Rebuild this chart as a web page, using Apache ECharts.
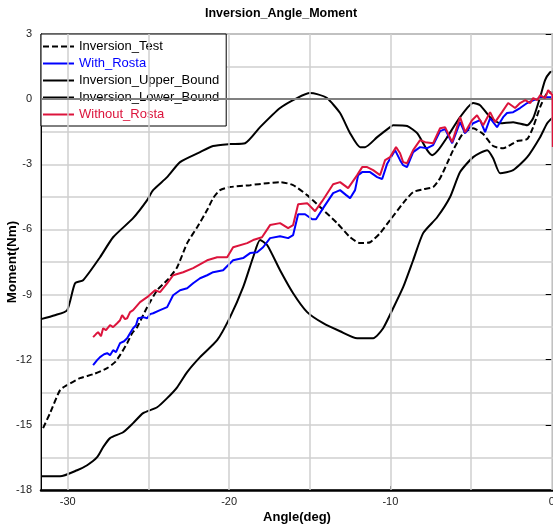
<!DOCTYPE html>
<html>
<head>
<meta charset="utf-8">
<script src="https://cdn.jsdelivr.net/npm/echarts@6/dist/echarts.min.js"></script>
<style>
  html, body { margin: 0; padding: 0; background: #fff; }
  #chart { width: 553px; height: 529px; }
</style>
</head>
<body>
<div id="chart"></div>
<script>
// Angle (deg) / moment (Nm) pairs for each curve
const inversionTest = [[-31.53,-15.15],[-31.10,-14.46],[-30.48,-13.40],[-30.04,-13.17],[-29.24,-12.85],[-28.43,-12.67],[-27.56,-12.39],[-27.07,-12.11],[-26.76,-11.79],[-26.32,-11.24],[-26.01,-10.78],[-25.70,-10.50],[-25.08,-9.58],[-24.46,-8.80],[-23.84,-8.34],[-23.22,-7.74],[-22.60,-6.63],[-21.98,-5.90],[-21.36,-5.11],[-20.99,-4.56],[-20.56,-4.19],[-19.94,-4.05],[-18.70,-3.96],[-17.64,-3.87],[-16.84,-3.82],[-16.03,-3.96],[-15.16,-4.42],[-14.36,-4.97],[-13.30,-5.71],[-12.50,-6.36],[-11.88,-6.63],[-11.26,-6.59],[-10.64,-6.17],[-10.02,-5.57],[-9.21,-4.79],[-8.59,-4.28],[-7.97,-4.15],[-7.35,-4.05],[-6.92,-3.64],[-6.48,-2.95],[-6.11,-2.35],[-5.49,-1.57],[-4.87,-1.34],[-4.25,-1.61],[-3.63,-2.16],[-3.01,-2.26],[-2.14,-1.93],[-1.52,-1.84],[-1.15,-1.29],[-0.72,-0.37],[-0.28,0.28],[0.08,0.32]];

const withRosta = [[-28.43,-12.25],[-28.18,-12.02],[-28.00,-11.88],[-27.75,-11.75],[-27.56,-11.70],[-27.38,-11.79],[-27.19,-11.56],[-27.01,-11.65],[-26.76,-11.24],[-26.51,-11.15],[-26.32,-11.01],[-26.14,-10.78],[-25.95,-10.55],[-25.77,-10.41],[-25.64,-10.09],[-25.33,-10.04],[-25.08,-10.09],[-24.90,-9.90],[-24.71,-9.86],[-24.28,-9.72],[-23.84,-9.58],[-23.47,-9.03],[-23.04,-8.80],[-22.60,-8.71],[-22.23,-8.48],[-21.80,-8.25],[-21.36,-8.11],[-20.99,-7.97],[-20.37,-7.88],[-19.75,-7.42],[-19.13,-7.32],[-18.70,-7.09],[-18.26,-7.05],[-17.89,-6.82],[-17.46,-6.40],[-16.84,-6.31],[-16.34,-6.40],[-16.03,-6.26],[-15.72,-5.30],[-15.29,-5.30],[-14.85,-5.53],[-14.61,-5.53],[-14.17,-5.02],[-13.55,-4.33],[-13.12,-4.19],[-12.74,-4.42],[-12.50,-4.56],[-12.19,-4.19],[-12.00,-3.50],[-11.75,-3.36],[-11.26,-3.36],[-10.82,-3.59],[-10.51,-3.68],[-10.21,-2.99],[-9.71,-2.35],[-9.40,-2.81],[-9.21,-3.04],[-8.97,-3.13],[-8.59,-2.44],[-8.16,-2.21],[-7.72,-2.26],[-7.35,-2.12],[-6.92,-1.47],[-6.61,-1.38],[-6.17,-2.03],[-5.68,-1.06],[-5.37,-1.57],[-4.87,-1.11],[-4.44,-0.97],[-4.13,-1.52],[-3.82,-0.88],[-3.39,-1.29],[-3.01,-0.83],[-2.77,-0.64],[-2.39,-0.60],[-1.96,-0.41],[-1.52,-0.18],[-1.15,-0.05],[-0.72,0.05],[-0.28,0.09],[0.08,0.09]];

const upperBound = [[-31.66,-10.13],[-30.80,-9.95],[-30.04,-9.72],[-29.55,-8.48],[-29.05,-8.34],[-28.00,-7.28],[-27.19,-6.36],[-25.95,-5.48],[-25.08,-4.65],[-24.71,-4.19],[-23.84,-3.59],[-23.04,-2.90],[-21.80,-2.44],[-20.99,-2.16],[-19.94,-2.07],[-19.01,-2.03],[-18.08,-1.29],[-16.84,-0.41],[-15.79,0.05],[-14.98,0.28],[-14.55,0.23],[-13.93,0.05],[-13.12,-0.64],[-12.50,-1.57],[-11.88,-2.21],[-11.57,-2.21],[-10.82,-1.75],[-10.02,-1.29],[-9.83,-1.20],[-8.96,-1.24],[-8.34,-1.57],[-7.72,-2.35],[-7.41,-2.58],[-7.04,-2.35],[-6.48,-1.75],[-5.68,-0.83],[-4.87,-0.18],[-4.44,-0.28],[-3.82,-0.83],[-3.20,-1.11],[-2.39,-1.06],[-1.52,-1.20],[-1.15,-0.88],[-0.72,0.09],[-0.41,0.88],[-0.10,1.24],[0.08,1.29]];

const lowerBound = [[-31.66,-17.37],[-30.48,-17.37],[-29.42,-17.09],[-28.80,-16.86],[-28.18,-16.49],[-27.81,-16.03],[-27.38,-15.61],[-26.57,-15.34],[-25.95,-14.92],[-25.33,-14.46],[-24.46,-14.19],[-23.84,-13.77],[-23.22,-13.27],[-22.60,-12.57],[-21.80,-11.88],[-20.74,-11.10],[-19.94,-10.04],[-19.13,-8.66],[-18.51,-7.28],[-18.08,-6.49],[-17.64,-6.72],[-16.84,-7.88],[-16.03,-8.94],[-15.16,-9.81],[-14.17,-10.32],[-13.12,-10.69],[-12.06,-11.01],[-11.07,-11.01],[-10.45,-10.55],[-9.83,-9.63],[-9.21,-8.66],[-8.59,-7.42],[-7.97,-6.17],[-7.10,-5.44],[-6.30,-4.51],[-5.68,-3.36],[-4.87,-2.67],[-4.00,-2.35],[-3.63,-2.72],[-3.20,-3.41],[-2.39,-3.27],[-1.52,-2.67],[-0.72,-1.75],[-0.28,-1.11],[0.08,-0.83]];

const withoutRosta = [[-28.43,-10.96],[-28.25,-10.82],[-28.12,-10.73],[-27.94,-10.92],[-27.81,-10.55],[-27.63,-10.64],[-27.38,-10.41],[-27.19,-10.50],[-26.94,-10.32],[-26.76,-10.18],[-26.63,-9.95],[-26.45,-10.13],[-26.32,-10.09],[-26.14,-9.81],[-25.95,-9.72],[-25.52,-9.35],[-25.08,-9.12],[-24.59,-8.80],[-24.28,-8.89],[-23.84,-8.48],[-23.47,-8.11],[-22.85,-7.97],[-22.23,-7.78],[-21.36,-7.42],[-20.74,-7.28],[-20.12,-7.28],[-19.75,-6.82],[-18.88,-6.63],[-18.51,-6.49],[-17.96,-6.36],[-17.46,-5.80],[-16.84,-5.71],[-16.34,-5.94],[-16.03,-5.80],[-15.72,-4.84],[-15.16,-4.79],[-14.67,-5.16],[-14.23,-4.70],[-13.55,-3.92],[-13.12,-3.82],[-12.62,-4.10],[-12.06,-3.50],[-11.75,-3.13],[-11.44,-3.13],[-11.07,-3.27],[-10.64,-3.50],[-10.33,-2.81],[-10.02,-2.67],[-9.65,-2.21],[-9.40,-2.49],[-9.21,-2.90],[-8.97,-2.95],[-8.59,-2.35],[-8.16,-1.89],[-7.84,-1.98],[-7.35,-2.03],[-6.92,-1.34],[-6.61,-1.29],[-6.17,-1.98],[-5.68,-0.83],[-5.37,-1.52],[-4.94,-0.97],[-4.63,-0.74],[-4.25,-1.20],[-3.82,-0.60],[-3.51,-1.06],[-3.08,-0.60],[-2.70,-0.18],[-2.27,-0.41],[-1.96,-0.18],[-1.64,-0.05],[-1.33,-0.18],[-1.15,0.05],[-0.90,-0.05],[-0.72,0.18],[-0.41,0.05],[-0.22,0.41],[0.05,0.18],[0.07,-2.2]];

// Axis ranges and tick values
const xMin = -31.66, xMax = 0.08;
const yMin = -18, yMax = 3;
const xLabelValues = [-30, -20, -10, 0];
const xGridValues = [-30, -25, -20, -15, -10, -5, 0];

const FONT = '"Liberation Sans", Arial, sans-serif';
const GRID_COLOR = '#cfcfcf';

const chart = echarts.init(document.getElementById('chart'), null, { renderer: 'canvas' });

function lineSeries(name, data, color, dashed, z, smooth) {
  return {
    name: name,
    type: 'line',
    data: data,
    symbol: 'none',
    smooth: smooth,
    z: z,
    clip: true,
    lineStyle: { color: color, width: 2, type: dashed ? [6, 3] : 'solid' },
    itemStyle: { color: color },
    emphasis: { disabled: true },
    animation: false
  };
}

chart.setOption({
  animation: false,
  backgroundColor: '#fff',
  textStyle: { fontFamily: FONT },
  graphic: [{
    type: 'text',
    x: 281, y: 14,
    style: {
      text: 'Inversion_Angle_Moment',
      font: 'bold 12.5px ' + FONT,
      fill: '#000',
      align: 'center',
      verticalAlign: 'middle'
    }
  }],
  grid: {
    left: 41, right: 0, top: 34, bottom: 39,
    outerBoundsMode: 'none',
    containLabel: false,
    show: true, borderColor: '#333', borderWidth: 1, backgroundColor: 'transparent'
  },
  legend: {
    orient: 'vertical',
    left: 41, top: 34,
    padding: [6, 7, 5, 1],
    backgroundColor: '#fff',
    borderColor: '#000',
    borderWidth: 1,
    itemWidth: 31,
    itemHeight: 14,
    itemGap: 4,
    selectedMode: false,
    itemStyle: { opacity: 0, borderWidth: 0 },
    textStyle: { fontSize: 13, fontFamily: FONT, color: '#000' },
    data: [
      { name: 'Inversion_Test', textStyle: { color: '#000' } },
      { name: 'With_Rosta', textStyle: { color: '#0000ff' } },
      { name: 'Inversion_Upper_Bound', textStyle: { color: '#000' } },
      { name: 'Inversion_Lower_Bound', textStyle: { color: '#000' } },
      { name: 'Without_Rosta', textStyle: { color: '#dc143c' } }
    ]
  },
  xAxis: {
    type: 'value',
    min: xMin, max: xMax,
    name: 'Angle(deg)',
    nameLocation: 'middle',
    nameGap: 21,
    nameMoveOverlap: false,
    nameTextStyle: { fontWeight: 'bold', fontSize: 13, color: '#000', fontFamily: FONT },
    axisLine: { show: true, onZero: false, lineStyle: { color: '#000', width: 2.5 } },
    axisTick: { show: true, inside: true, length: 4, customValues: [-10], lineStyle: { color: '#000', width: 1 } },
    axisLabel: { customValues: xLabelValues, fontSize: 11, color: '#222', margin: 6, fontFamily: FONT, showMaxLabel: true, showMinLabel: true, hideOverlap: false },
    splitLine: { show: false }
  },
  yAxis: [{
    type: 'value',
    min: yMin, max: yMax, interval: 1.5,
    axisLine: { show: true, onZero: false, lineStyle: { color: '#000', width: 1 } },
    axisTick: { show: false },
    axisLabel: { show: false },
    splitLine: { show: true, lineStyle: { color: GRID_COLOR, width: 1.5 } }
  }, {
    type: 'value',
    position: 'left',
    offset: 0,
    min: yMin, max: yMax, interval: 3,
    name: 'Moment(Nm)',
    nameLocation: 'middle',
    nameGap: 22,
    nameRotate: 90,
    nameMoveOverlap: false,
    nameTextStyle: { fontWeight: 'bold', fontSize: 13.5, color: '#000', fontFamily: FONT },
    axisLine: { show: false },
    axisTick: { show: true, length: 6, lineStyle: { color: '#000', width: 1 } },
    axisLabel: { fontSize: 11, color: '#222', margin: 9, fontFamily: FONT, showMaxLabel: true, showMinLabel: true, hideOverlap: false },
    splitLine: { show: false }
  }],
  series: [
    {
      // vertical grid lines and the zero reference line
      type: 'line',
      data: [],
      z: 1,
      silent: true,
      symbol: 'none',
      markLine: {
        silent: true,
        symbol: 'none',
        animation: false,
        label: { show: false },
        emphasis: { disabled: true },
        lineStyle: { color: GRID_COLOR, width: 1.5, type: 'solid' },
        data: xGridValues.map(v => ({ xAxis: v }))
          .concat([{ yAxis: 0, lineStyle: { color: '#808080', width: 2, type: 'solid' } }])
      }
    },
    lineSeries('Inversion_Test', inversionTest, '#000', true, 3, 0.2),
    lineSeries('With_Rosta', withRosta, '#0000ff', false, 4, false),
    lineSeries('Inversion_Upper_Bound', upperBound, '#000', false, 3, 0.2),
    lineSeries('Inversion_Lower_Bound', lowerBound, '#000', false, 3, 0.2),
    lineSeries('Without_Rosta', withoutRosta, '#dc143c', false, 5, false)
  ]
});
</script>
</body>
</html>
